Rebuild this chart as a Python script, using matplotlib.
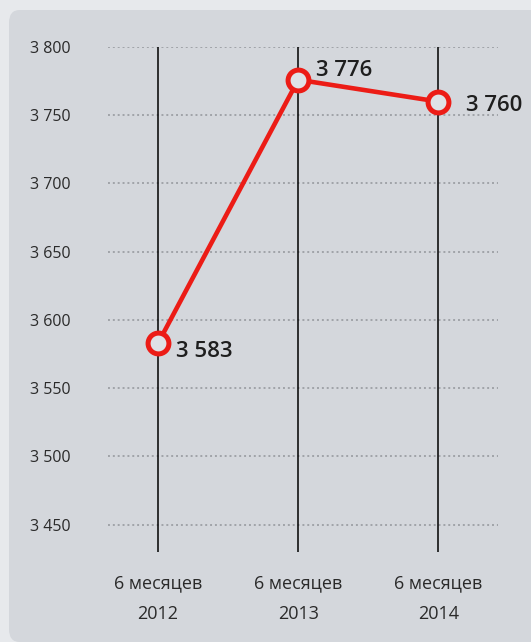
import matplotlib

matplotlib.use("Agg")
import matplotlib.pyplot as plt
from matplotlib.patches import FancyBboxPatch

# data
periods = ["6 месяцев\n2012", "6 месяцев\n2013", "6 месяцев\n2014"]
values = [3583, 3776, 3760]
value_labels = ["3 583", "3 776", "3 760"]
y_ticks = [3450, 3500, 3550, 3600, 3650, 3700, 3750, 3800]
y_tick_labels = ["3 450", "3 500", "3 550", "3 600", "3 650", "3 700", "3 750", "3 800"]

W, H = 531, 642
BG = "#d4d7dc"
RED = "#ec1c16"

plt.rcParams["font.family"] = ["Open Sans", "DejaVu Sans"]

fig = plt.figure(figsize=(W / 100, H / 100), dpi=100)
fig.patch.set_facecolor("#e7e9ec")

# rounded inner panel, kept behind the axes
panel = FancyBboxPatch(
    (9 / W, 0), (W - 9) / W + 0.05, (H - 10) / H,
    boxstyle="round,pad=0,rounding_size=0.02",
    transform=fig.transFigure, facecolor=BG, edgecolor="none", zorder=-10,
)
fig.add_artist(panel)

# axes placed in pixel terms: x 108..498, y(3800)=47, y(3430)=552
left, right, top, bottom = 108, 498, 47, 552
ax = fig.add_axes([left / W, 1 - bottom / H, (right - left) / W, (bottom - top) / H])
ax.set_facecolor("none")
ax.set_zorder(1)

xs = list(range(len(values)))
ax.set_xlim(-0.357, 2.425)
ax.set_ylim(3430, 3800)

for x in xs:
    ax.axvline(x, color="black", linewidth=1.1, zorder=1)

for y in y_ticks:
    ax.axhline(y, color="#a0a3a8", linewidth=1.4, linestyle=(0, (1, 1.5)), zorder=0.5)

ax.plot(xs, values, color=RED, linewidth=3.3, zorder=3, solid_capstyle="round")
ax.plot(xs, values, linestyle="none", marker="o", markersize=15,
        markerfacecolor="#dfe2e6", markeredgecolor=RED, markeredgewidth=3.6,
        zorder=4, clip_on=False)

offsets = [(13, -6), (13, 7), (20, -3)]
for x, v, lab, (dx, dy) in zip(xs, values, value_labels, offsets):
    ax.annotate(lab, (x, v), xytext=(dx, dy), textcoords="offset points",
                ha="left", va="center", fontsize=16, color="#1e1e1e",
                fontweight="semibold", zorder=5, annotation_clip=False)

ax.set_xticks(xs)
ax.set_xticklabels(periods, fontsize=13, color="#2a2a2a", linespacing=1.9)
ax.set_yticks(y_ticks)
ax.set_yticklabels(y_tick_labels, fontsize=11.5, color="#2a2a2a")
ax.tick_params(axis="both", length=0)
ax.tick_params(axis="y", pad=27)
ax.tick_params(axis="x", pad=16)
for s in ax.spines.values():
    s.set_visible(False)

fig.savefig("out.png", dpi=100, facecolor=fig.get_facecolor())
